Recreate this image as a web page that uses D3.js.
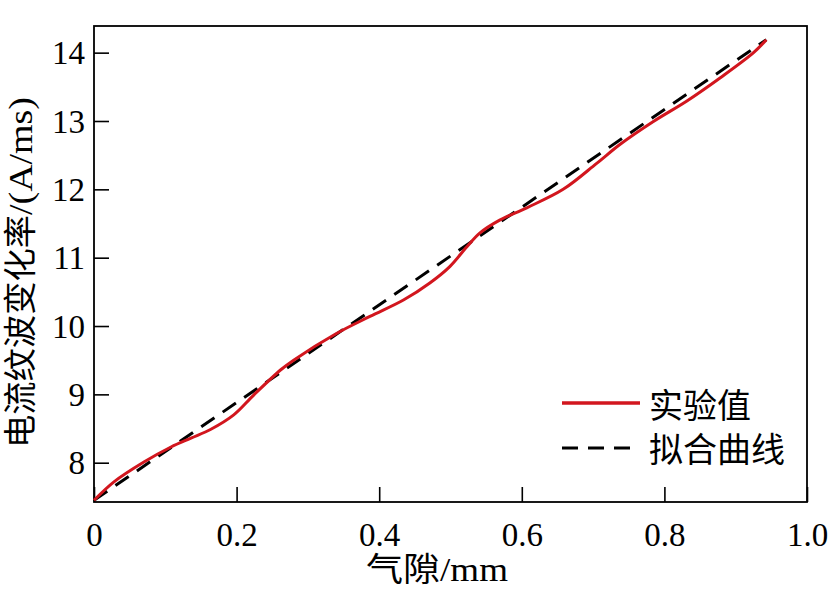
<!DOCTYPE html>
<html>
<head>
<meta charset="utf-8">
<script src="https://cdn.jsdelivr.net/npm/d3@7"></script>
<style>
  html, body { margin: 0; padding: 0; background: #fff; }
  svg { display: block; }
  text { font-family: "Liberation Serif", "Times New Roman", "Noto Sans CJK SC", serif; fill: #000; }
</style>
</head>
<body>
<svg id="chart" width="829" height="591"></svg>
<script>
// ---- data ----
const gapMm = [0, 0.028, 0.07, 0.108, 0.136, 0.164, 0.196, 0.224, 0.262, 0.28, 0.34, 0.387, 0.434, 0.471, 0.499, 0.523, 0.541, 0.569, 0.607, 0.658, 0.705, 0.738, 0.784, 0.831, 0.878, 0.925, 0.943];
const measured = [7.45, 7.72, 8.01, 8.23, 8.36, 8.49, 8.70, 8.99, 9.36, 9.50, 9.89, 10.14, 10.38, 10.63, 10.87, 11.16, 11.36, 11.55, 11.73, 12.0, 12.38, 12.66, 12.99, 13.29, 13.63, 14.0, 14.19];
const fitGap = [0, 0.943];
const fitValues = [7.45, 14.19];
const xTicks = [0, 0.2, 0.4, 0.6, 0.8, 1.0];
const xTickLabels = ["0", "0.2", "0.4", "0.6", "0.8", "1.0"];
const yTicks = [8, 9, 10, 11, 12, 13, 14];
const seriesNames = ["实验值", "拟合曲线"];
const xTitle = "气隙/mm";
const yTitleCjk = "电流纹波变化率";
const yTitleUnit = "/(A/ms)";

// ---- layout ----
const svg = d3.select("#chart");
const L = 94, T = 26, R = 807, B = 502;
const x = d3.scaleLinear().domain([0, 1.0]).range([L, R]);
const y = d3.scaleLinear().domain([7.425, 14.39]).range([B, T]);
const red = "#d2161e";

// axes with inward ticks
const xAxis = d3.axisBottom(x).tickValues(xTicks).tickSize(-15).tickPadding(22)
  .tickFormat((d, i) => xTickLabels[i]);
const yAxis = d3.axisLeft(y).tickValues(yTicks).tickSize(-15).tickPadding(9)
  .tickFormat(d3.format("d"));

const gx = svg.append("g").attr("transform", `translate(0,${B})`).call(xAxis);
const gy = svg.append("g").attr("transform", `translate(${L},0)`).call(yAxis);
[gx, gy].forEach(g => {
  g.select(".domain").remove();
  g.selectAll(".tick line").attr("stroke", "#000").attr("stroke-width", 1.6);
  g.selectAll(".tick text").attr("font-size", 33)
    .attr("font-family", "'Liberation Serif', 'Times New Roman', serif").attr("fill", "#000");
});
gy.selectAll(".tick text").attr("dy", "0.34em");
gx.selectAll(".tick text").attr("dy", "0.68em");

// frame
svg.append("rect").attr("x", L).attr("y", T).attr("width", R - L).attr("height", B - T)
  .attr("fill", "none").attr("stroke", "#000").attr("stroke-width", 1.8);

// lines
const fitPts = fitGap.map((g, i) => [g, fitValues[i]]);
const measPts = gapMm.map((g, i) => [g, measured[i]]);

svg.append("path").datum(fitPts)
  .attr("d", d3.line().x(d => x(d[0])).y(d => y(d[1])))
  .attr("fill", "none").attr("stroke", "#000").attr("stroke-width", 3)
  .attr("stroke-dasharray", "16,10");

svg.append("path").datum(measPts)
  .attr("d", d3.line().curve(d3.curveCatmullRom.alpha(0.5)).x(d => x(d[0])).y(d => y(d[1])))
  .attr("fill", "none").attr("stroke", red).attr("stroke-width", 3);

// legend
const lg = svg.append("g");
lg.append("line").attr("x1", 562).attr("x2", 640).attr("y1", 403).attr("y2", 403)
  .attr("stroke", red).attr("stroke-width", 3.5);
lg.append("line").attr("x1", 562).attr("x2", 640).attr("y1", 448).attr("y2", 448)
  .attr("stroke", "#000").attr("stroke-width", 3).attr("stroke-dasharray", "16,10");
lg.append("text").attr("x", 649).attr("y", 418).attr("font-size", 34)
  .attr("font-family", "'Noto Sans CJK SC', sans-serif").text(seriesNames[0]);
lg.append("text").attr("x", 649).attr("y", 462).attr("font-size", 34)
  .attr("font-family", "'Noto Sans CJK SC', sans-serif").text(seriesNames[1]);

// axis titles
svg.append("text").attr("x", 366).attr("y", 581)
  .attr("font-size", 33).attr("textLength", 142).attr("lengthAdjust", "spacingAndGlyphs")
  .text(xTitle);
svg.append("text").attr("transform", "translate(32,448) rotate(-90)")
  .attr("font-size", 33).attr("textLength", 233).attr("lengthAdjust", "spacingAndGlyphs")
  .text(yTitleCjk);
svg.append("text").attr("transform", "translate(32,215) rotate(-90)")
  .attr("font-size", 33).attr("textLength", 118).attr("lengthAdjust", "spacingAndGlyphs")
  .text(yTitleUnit);
</script>
</body>
</html>
